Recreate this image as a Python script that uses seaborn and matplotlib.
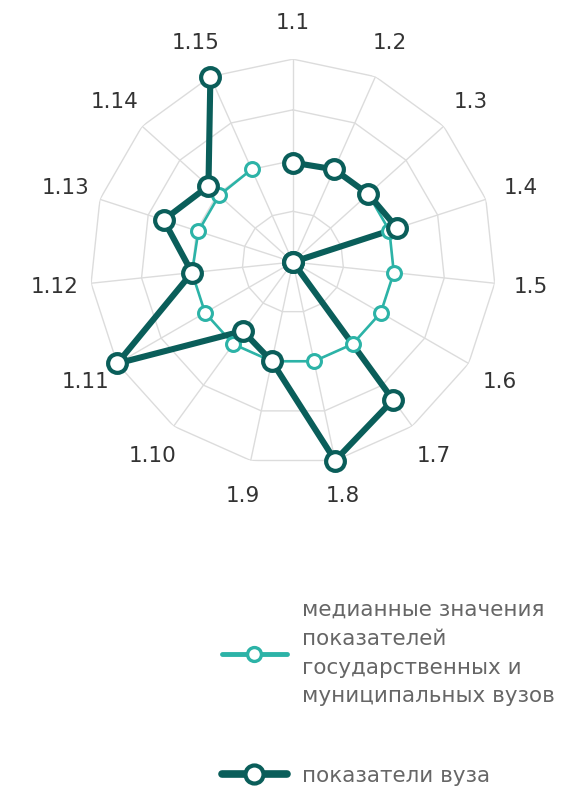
import numpy as np
import pandas as pd
import matplotlib
matplotlib.use('Agg')
import matplotlib.pyplot as plt
from matplotlib.lines import Line2D
import seaborn as sns

# подписи осей и значения (в % от максимума шкалы)
labels = ['1.1', '1.2', '1.3', '1.4', '1.5', '1.6', '1.7', '1.8',
          '1.9', '1.10', '1.11', '1.12', '1.13', '1.14', '1.15']
median_vals = [49, 50, 50, 50, 50, 50, 50, 50, 50, 50, 50, 50, 49, 49, 50]
uni_vals = [49, 50, 50, 54, 0, 0, 84, 100, 50, 42, 100, 50, 67, 56, 100]
rings = [25, 50, 75, 100]

name_median = 'медианные значения\nпоказателей\nгосударственных и\nмуниципальных вузов'
name_uni = 'показатели вуза'

c_median = '#2cb3a7'
c_uni = '#0a5e5a'
c_grid = '#dcdcdc'

sns.set_style('white')
plt.rcParams['font.family'] = ['DejaVu Sans']

n = len(labels)
theta = np.linspace(0, 2 * np.pi, n, endpoint=False)


def loop(vals, name):
    # замыкаем многоугольник
    t = np.append(theta, theta[0])
    v = np.append(vals, vals[0])
    return pd.DataFrame({'theta': t, 'value': v, 'series': name})


df_med = loop(median_vals, name_median)
df_uni = loop(uni_vals, name_uni)

fig = plt.figure(figsize=(5.66, 7.89), dpi=100)
ax = fig.add_axes([0.159, 0.4106, 0.717, 0.5146], projection='polar')
ax.set_theta_zero_location('N')
ax.set_theta_direction(-1)
ax.set_ylim(0, 100)
ax.grid(False)
ax.spines['polar'].set_visible(False)
ax.set_xticks([])
ax.set_yticks([])

# многоугольная сетка
t_closed = np.append(theta, theta[0])
for r in rings:
    ax.plot(t_closed, [r] * (n + 1), color=c_grid, lw=1, zorder=1)
for t in theta:
    ax.plot([t, t], [0, rings[-1]], color=c_grid, lw=1, zorder=1)

# линии
sns.lineplot(data=df_med, x='theta', y='value', sort=False, color=c_median,
             lw=1.9, ax=ax, zorder=2, legend=False, clip_on=False)
sns.lineplot(data=df_uni, x='theta', y='value', sort=False, color=c_uni,
             lw=4.4, ax=ax, zorder=3, legend=False, clip_on=False)
# маркеры
sns.scatterplot(x=theta, y=median_vals, s=10 ** 2, color='white',
                edgecolor=c_median, linewidth=2.2, ax=ax, zorder=4,
                clip_on=False)
sns.scatterplot(x=theta, y=uni_vals, s=13.5 ** 2, color='white',
                edgecolor=c_uni, linewidth=3.0, ax=ax, zorder=5,
                clip_on=False)
ax.set_xlabel('')
ax.set_ylabel('')

# подписи осей
for t, lab in zip(theta, labels):
    ax.text(t, 118, lab, ha='center', va='center', fontsize=15.5,
            color='#333333')

handles = [
    Line2D([], [], color=c_median, lw=3.5, marker='o', ms=10,
           mfc='white', mec=c_median, mew=2.4),
    Line2D([], [], color=c_uni, lw=5.5, marker='o', ms=13,
           mfc='white', mec=c_uni, mew=3.0),
]
leg = fig.legend(handles, [name_median, name_uni], loc='upper left',
                 bbox_to_anchor=(222 / 566, 1 - 600 / 789), frameon=False,
                 borderpad=0, borderaxespad=0, handlelength=3.0,
                 handletextpad=0.7, labelspacing=2.75, fontsize=15.5)
for txt in leg.get_texts():
    txt.set_color('#666666')
    txt.set_linespacing(1.55)

fig.savefig('out.png', dpi=100)
